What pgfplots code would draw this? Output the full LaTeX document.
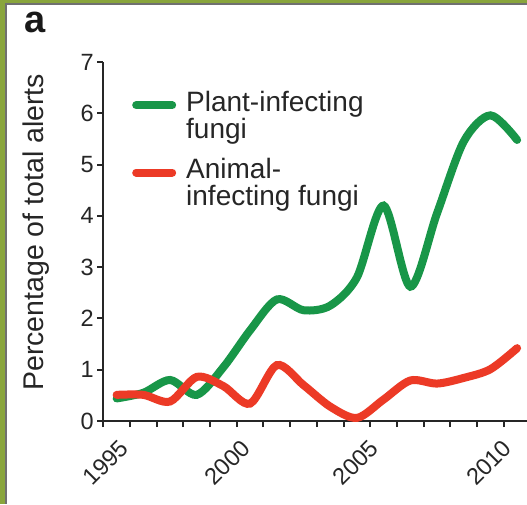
\documentclass[border=0pt]{standalone}
\usepackage{pgfplots}
\pgfplotsset{compat=1.18}
\usepackage{fontspec}
\setmainfont{Liberation Sans}
\definecolor{frameolive}{RGB}{137,165,60}
\definecolor{framegray}{RGB}{112,112,112}
\definecolor{plantgreen}{RGB}{24,150,72}
\definecolor{animalred}{RGB}{236,58,38}
\definecolor{axisgray}{RGB}{38,38,38}

\pgfplotstableread{
year value
1994.5 0.44
1995.5 0.55
1996.5 0.80
1997.5 0.51
1998.5 1.05
1999.5 1.77
2000.5 2.37
2001.5 2.16
2002.5 2.25
2003.5 2.80
2004.5 4.20
2005.5 2.62
2006.5 4.05
2007.5 5.45
2008.5 5.96
2009.5 5.48
}\planttable

\pgfplotstableread{
year value
1994.5 0.51
1995.5 0.51
1996.5 0.38
1997.5 0.86
1998.5 0.68
1999.5 0.34
2000.5 1.09
2001.5 0.70
2002.5 0.28
2003.5 0.06
2004.5 0.42
2005.5 0.79
2006.5 0.73
2007.5 0.84
2008.5 1.01
2009.5 1.42
}\animaltable

\begin{document}
\begin{tikzpicture}[x=1pt,y=1pt]
\path[use as bounding box] (0,0) rectangle (527,504);
\fill[white] (0,0) rectangle (527,504);
\begin{scope}
\clip (0,0) rectangle (527,504);
\begin{axis}[
  at={(103.3pt,83pt)}, anchor=south west,
  scale only axis, width=423.7pt, height=359pt,
  xmin=1994, xmax=2009.87, ymin=0, ymax=7,
  axis lines*=left,
  axis line style={line width=2pt, axisgray},
  every tick/.style={line width=2pt, axisgray},
  tick align=outside, major tick length=0pt, minor tick length=6pt,
  xtick={1994.56,1999.12,2003.92,2008.92},
  xticklabels={1995,2000,2005,2010},
  minor xtick={1994,...,2009},
  xticklabel style={yshift=-17pt, rotate=45, anchor=north east, inner sep=0pt},
  ytick={0,...,7},
  minor ytick={0,...,7},
  yticklabel style={xshift=-6pt},
  /pgf/number format/assume math mode=true,
  tick label style={font=\fontsize{23.5}{24}\selectfont, text=axisgray},
  legend style={at={(axis description cs:0.0677,0.9203)}, anchor=north west,
    draw=none, fill=none, inner sep=0pt, row sep=18.5pt, column sep=10pt,
    font=\fontsize{28}{27}\selectfont,
    nodes={inner sep=0pt, align=left, text=axisgray}},
  legend cell align=left,
  legend image code/.code={\draw[#1, line cap=round] (0pt,10pt) -- (36pt,10pt);},
]
\addplot[plantgreen, line width=8pt, smooth, line cap=round] table[x=year, y=value] {\planttable};
\addlegendentry{Plant-infecting\\fungi}
\addplot[animalred, line width=8pt, smooth, line cap=round] table[x=year, y=value] {\animaltable};
\addlegendentry{Animal-\\infecting fungi}
\end{axis}
\end{scope}
\fill[frameolive] (0,0) rectangle (5,504);
\fill[frameolive] (0,501) rectangle (527,504);
\fill[framegray] (5,0) rectangle (7,501);
\fill[framegray] (5,499) rectangle (527,501);
\node[anchor=base west, inner sep=0pt, font=\bfseries\fontsize{38}{38}\selectfont, text=black!90] at (24.5,471) {a};
\node[rotate=90, anchor=base, inner sep=0pt, font=\fontsize{28.5}{28.5}\selectfont, text=axisgray] at (43.3,271.6) {Percentage of total alerts};
\end{tikzpicture}
\end{document}
